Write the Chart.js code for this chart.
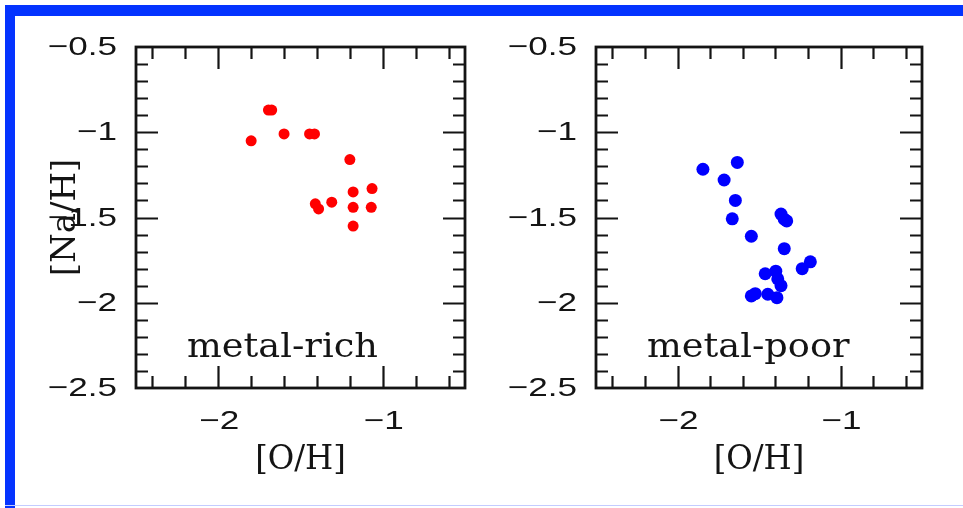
<!DOCTYPE html>
<html>
<head>
<meta charset="utf-8">
<script src="https://cdn.jsdelivr.net/npm/chart.js@4/dist/chart.umd.min.js"></script>
<style>
  html, body { margin: 0; padding: 0; background: #fff; }
  #page { position: absolute; left: 0; top: 0; width: 963px; height: 508px; overflow: hidden; background: #fff; }
  canvas { position: absolute; top: 0; }
  #panelRich { left: 0; }
  #panelPoor { left: 481px; }
  .edge { position: absolute; }
</style>
</head>
<body>
<div id="page">
  <canvas id="panelRich" width="481" height="508"></canvas>
  <canvas id="panelPoor" width="482" height="508"></canvas>
  <div class="edge" style="left:5px;top:5px;width:958px;height:11px;background:#0433ff"></div>
  <div class="edge" style="left:5px;top:5px;width:10px;height:503px;background:#0433ff"></div>
  <div class="edge" style="left:5px;top:505px;width:958px;height:1px;background:#c4ccff"></div>
</div>
<script>
// [O/H] and [Na/H] for the metal-rich group
const richOH = [-1.80, -1.695, -1.675, -1.60, -1.445, -1.415, -1.20, -1.065, -1.18, -1.41, -1.39, -1.31, -1.18, -1.07, -1.18];
const richNaH = [-1.05, -0.87, -0.87, -1.01, -1.01, -1.01, -1.16, -1.33, -1.35, -1.42, -1.45, -1.41, -1.44, -1.44, -1.55];

// [O/H] and [Na/H] for the metal-poor group
const poorOH = [-1.844, -1.633, -1.714, -1.645, -1.664, -1.365, -1.345, -1.33, -1.547, -1.345, -1.185, -1.235, -1.462, -1.397, -1.385, -1.365, -1.523, -1.547, -1.446, -1.39];
const poorNaH = [-1.217, -1.177, -1.28, -1.40, -1.508, -1.48, -1.51, -1.52, -1.61, -1.683, -1.76, -1.80, -1.83, -1.815, -1.86, -1.90, -1.947, -1.96, -1.95, -1.97];

// axis ranges and ticks
const xRange = [-2.5, -0.5];
const yRange = [-2.5, -0.5];
const xTickValues = [-2.4, -2.2, -2.0, -1.8, -1.6, -1.4, -1.2, -1.0, -0.8, -0.6];
const xTickLabels = [-2, -1];
const yTickValues = [-2.4, -2.3, -2.2, -2.1, -2.0, -1.9, -1.8, -1.7, -1.6, -1.5, -1.4, -1.3, -1.2, -1.1, -1.0, -0.9, -0.8, -0.7, -0.6];
const yTickLabels = [-0.5, -1, -1.5, -2, -2.5];

const INK = '#141414';
const fmt = v => (v < 0 ? '\u2212' : '') + String(Math.abs(v));

function stretchedText(ctx, text, x, y, font, sx, align, baseline) {
  ctx.save();
  ctx.translate(x, y);
  ctx.scale(sx, 1);
  ctx.font = font;
  ctx.textAlign = align;
  ctx.textBaseline = baseline;
  ctx.fillStyle = INK;
  ctx.fillText(text, 0, 0);
  ctx.restore();
}

// frame, inward ticks on all four sides, tick labels and titles
const panelDecor = {
  id: 'panelDecor',
  afterDraw(chart, args, opts) {
    const ctx = chart.ctx;
    const a = chart.chartArea;
    const xs = chart.scales.x, ys = chart.scales.y;
    const near = (v, list) => list.some(m => Math.abs(m - v) < 1e-6);

    ctx.save();
    ctx.strokeStyle = INK;
    ctx.lineWidth = 2.2;
    ctx.beginPath();
    xs.ticks.forEach(t => {
      const px = Math.round(xs.getPixelForValue(t.value)) + 0.5;
      const len = near(t.value, xTickLabels) ? 22 : 12;
      ctx.moveTo(px, a.bottom); ctx.lineTo(px, a.bottom - len);
      ctx.moveTo(px, a.top); ctx.lineTo(px, a.top + len);
    });
    ys.ticks.forEach(t => {
      const py = Math.round(ys.getPixelForValue(t.value)) + 0.5;
      const len = near(t.value, yTickLabels) ? 22 : 12;
      ctx.moveTo(a.left, py); ctx.lineTo(a.left + len, py);
      ctx.moveTo(a.right, py); ctx.lineTo(a.right - len, py);
    });
    ctx.stroke();

    ctx.lineWidth = 2.8;
    ctx.strokeRect(a.left, a.top, a.right - a.left, a.bottom - a.top);
    ctx.restore();

    const tickFont = '26px "Liberation Sans", Arial, sans-serif';
    yTickLabels.forEach(v => {
      stretchedText(ctx, fmt(v), a.left - 19, ys.getPixelForValue(v) + 1, tickFont, 1.35, 'right', 'middle');
    });
    xTickLabels.forEach(v => {
      stretchedText(ctx, fmt(v), xs.getPixelForValue(v) + 1, a.bottom + 34, tickFont, 1.35, 'center', 'middle');
    });

    const serif = '34px "DejaVu Serif", serif';
    const cx = (a.left + a.right) / 2;
    stretchedText(ctx, '[O/H]', cx, a.bottom + 72, serif, 0.95, 'center', 'middle');
    stretchedText(ctx, opts.label, a.left + 51, a.bottom - 31, serif, 1.08, 'left', 'alphabetic');

    if (opts.yTitle) {
      ctx.save();
      ctx.translate(a.left - 70, (a.top + a.bottom) / 2);
      ctx.rotate(-Math.PI / 2);
      ctx.font = serif;
      ctx.textAlign = 'center';
      ctx.textBaseline = 'middle';
      ctx.fillStyle = INK;
      ctx.fillText('[Na/H]', 0, 0);
      ctx.restore();
    }
  }
};

function makePanel(id, oh, nah, color, radius, label, yTitle, pad) {
  return new Chart(document.getElementById(id), {
    type: 'scatter',
    data: {
      datasets: [{
        data: oh.map((x, i) => ({ x: x, y: nah[i] })),
        backgroundColor: color,
        borderColor: color,
        borderWidth: 0,
        pointRadius: radius,
        pointHoverRadius: radius,
        clip: false
      }]
    },
    options: {
      responsive: false,
      animation: false,
      events: [],
      layout: { padding: pad },
      plugins: {
        legend: { display: false },
        tooltip: { enabled: false },
        panelDecor: { label: label, yTitle: yTitle }
      },
      scales: {
        x: {
          type: 'linear', min: xRange[0], max: xRange[1],
          grid: { display: false }, border: { display: false },
          ticks: { display: false },
          afterBuildTicks: s => { s.ticks = xTickValues.map(v => ({ value: v })); },
          afterFit: s => { s.height = 0; }
        },
        y: {
          type: 'linear', min: yRange[0], max: yRange[1],
          grid: { display: false }, border: { display: false },
          ticks: { display: false },
          afterBuildTicks: s => { s.ticks = yTickValues.map(v => ({ value: v })); },
          afterFit: s => { s.width = 0; }
        }
      }
    },
    plugins: [panelDecor]
  });
}

makePanel('panelRich', richOH, richNaH, '#ff0000', 5.5, 'metal-rich', true,
  { left: 136, top: 47, right: 16, bottom: 120 });
makePanel('panelPoor', poorOH, poorNaH, '#0000ff', 6.5, 'metal-poor', false,
  { left: 115, top: 47, right: 41, bottom: 120 });
</script>
</body>
</html>
